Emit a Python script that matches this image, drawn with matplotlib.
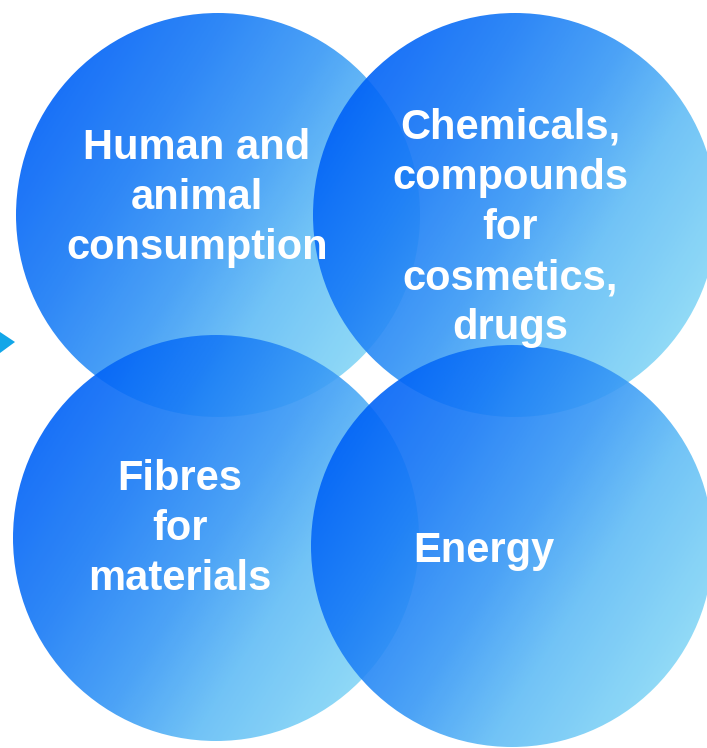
"""Four overlapping gradient circles: uses of biomass."""
import numpy as np
import matplotlib
matplotlib.use("Agg")
import matplotlib.pyplot as plt
from matplotlib.patches import Circle, Polygon
from matplotlib.colors import LinearSegmentedColormap

# categories (drawing order: top-left, top-right, bottom-left, bottom-right)
labels = [
    "Human and\nanimal\nconsumption",
    "Chemicals,\ncompounds\nfor\ncosmetics,\ndrugs",
    "Fibres\nfor\nmaterials",
    "Energy",
]

# layout (pixel space, y down)
W, H = 707, 748
circle_cx = [218, 515, 216, 512]
circle_cy = [215, 215, 538, 546]
circle_r = [202, 202, 203, 201]
text_xy = [(197, 198), (510, 228), (180, 529), (484, 551)]

cmap = LinearSegmentedColormap.from_list(
    "blues", [(0.0, "#0062f8"), (0.25, "#177af6"), (0.5, "#3798f5"),
              (0.72, "#62bdf5"), (1.0, "#84d6f6")])

fig = plt.figure(figsize=(W / 100, H / 100), dpi=100)
ax = fig.add_axes([0, 0, 1, 1])
ax.set_xlim(0, W)
ax.set_ylim(H, 0)
ax.set_aspect("equal")
ax.axis("off")

# gradient direction (right and down)
ux, uy = 0.85, 0.53

for cx, cy, r in zip(circle_cx, circle_cy, circle_r):
    n = 300
    xs = np.linspace(cx - r, cx + r, n)
    ys = np.linspace(cy - r, cy + r, n)
    X, Y = np.meshgrid(xs, ys)
    t = ((X - cx) * ux + (Y - cy) * uy) / r
    t = np.clip((t + 1) / 2, 0, 1)
    circ = Circle((cx, cy), r, transform=ax.transData, facecolor="none",
                  edgecolor="none")
    ax.add_patch(circ)
    im = ax.imshow(t, cmap=cmap, vmin=0, vmax=1, origin="lower",
                   extent=(cx - r, cx + r, cy - r, cy + r), alpha=0.9,
                   interpolation="bilinear", zorder=1)
    im.set_clip_path(circ)

ax.set_xlim(0, W)
ax.set_ylim(H, 0)

# small arrow tip on the left edge
ax.add_patch(Polygon([(0, 332), (15, 342), (0, 353)], closed=True,
                     facecolor="#12a6e8", edgecolor="none", zorder=2))

for lab, (x, y) in zip(labels, text_xy):
    ax.text(x, y, lab, ha="center", va="center", color="white",
            fontsize=30, fontweight="bold", family="Liberation Sans",
            linespacing=1.33, zorder=3)

fig.savefig("out.png", dpi=100)
